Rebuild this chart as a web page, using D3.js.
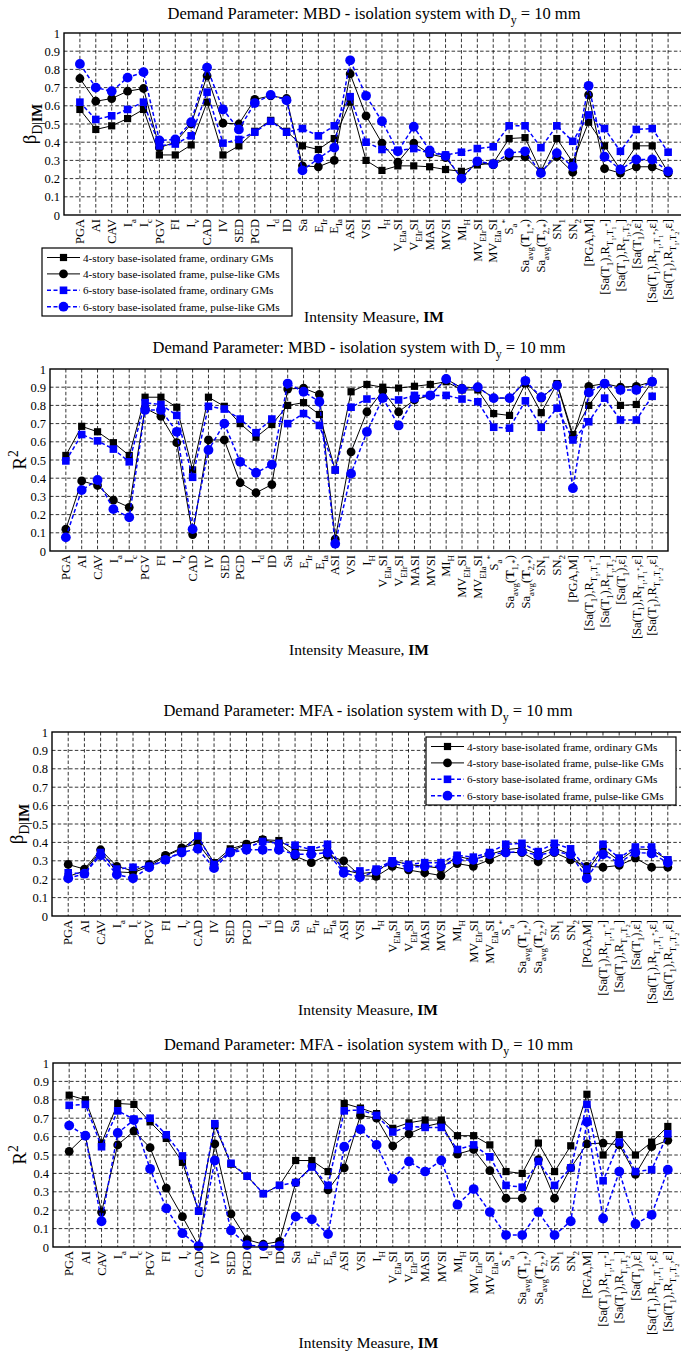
<!DOCTYPE html>
<html><head><meta charset="utf-8">
<script src="https://cdn.jsdelivr.net/npm/d3@7"></script>
<style>
body{margin:0;background:#fff}
svg{display:block}
text{font-family:"Liberation Serif","Times New Roman",serif;fill:#000}
</style>
</head><body>
<svg id="c" width="681" height="1354"></svg>
<script>
// ---------------- DATA ----------------
const categories = ["PGA","AI","CAV","I_{a}","I_{c}","PGV","FI","I_{v}","CAD","IV","SED","PGD","I_{d}","ID","Sa","E_{Ir}","E_{Ia}","ASI","VSI","I_{H}","V_{EIa}SI","V_{EIr}SI","MASI","MVSI","MI_{H}","MV_{EIr}SI","MV_{EIa}SI","S_{a}^{*}","Sa_{avg}(#{T}_{1,*})","Sa_{avg}(#{T}_{2,*})","SN_{1}","SN_{2}","[PGA,M]","[Sa(T_{1}),R_{T_{1},T_{1}^{*}}]","[Sa(T_{1}),R_{T_{1},T_{2}}]","[Sa(T_{1}),ε]","[Sa(T_{1}),R_{T_{1},T_{1}^{*}},ε]","[Sa(T_{1}),R_{T_{1},T_{2}},ε]"];
const yTicks = [0,0.1,0.2,0.3,0.4,0.5,0.6,0.7,0.8,0.9,1];
const seriesNames = ["4-story base-isolated frame, ordinary GMs","4-story base-isolated frame, pulse-like GMs","6-story base-isolated frame, ordinary GMs","6-story base-isolated frame, pulse-like GMs"];

// Panel 1: MBD, beta_D|IM
const mbdBeta4Ord   = [0.58,0.47,0.49,0.53,0.58,0.33,0.33,0.385,0.62,0.33,0.38,0.46,0.52,0.46,0.38,0.36,0.42,0.62,0.30,0.245,0.27,0.27,0.265,0.25,0.24,0.275,0.285,0.42,0.425,0.24,0.42,0.29,0.51,0.38,0.25,0.38,0.38,0.235];
const mbdBeta4Pulse = [0.75,0.625,0.64,0.68,0.695,0.37,0.40,0.50,0.765,0.505,0.50,0.635,0.655,0.64,0.27,0.265,0.30,0.775,0.545,0.395,0.29,0.395,0.335,0.315,0.205,0.29,0.275,0.32,0.32,0.235,0.32,0.235,0.66,0.255,0.23,0.265,0.265,0.23];
const mbdBeta6Ord   = [0.62,0.525,0.545,0.58,0.62,0.38,0.39,0.435,0.675,0.395,0.415,0.455,0.515,0.455,0.475,0.435,0.49,0.65,0.40,0.36,0.355,0.365,0.34,0.33,0.345,0.365,0.375,0.49,0.49,0.37,0.49,0.405,0.55,0.475,0.35,0.47,0.475,0.345];
const mbdBeta6Pulse = [0.83,0.70,0.68,0.755,0.785,0.41,0.415,0.51,0.81,0.58,0.47,0.615,0.66,0.63,0.245,0.31,0.37,0.85,0.655,0.515,0.35,0.485,0.355,0.325,0.20,0.295,0.28,0.34,0.35,0.23,0.34,0.265,0.71,0.32,0.25,0.305,0.305,0.24];

// Panel 2: MBD, R^2
const mbdR2_4Ord   = [0.525,0.685,0.655,0.595,0.525,0.845,0.845,0.79,0.445,0.845,0.795,0.70,0.625,0.695,0.80,0.815,0.75,0.445,0.875,0.915,0.90,0.895,0.905,0.915,0.93,0.885,0.885,0.755,0.745,0.92,0.76,0.92,0.64,0.80,0.92,0.80,0.805,0.93];
const mbdR2_4Pulse = [0.12,0.385,0.36,0.28,0.24,0.785,0.74,0.595,0.09,0.61,0.61,0.375,0.32,0.365,0.89,0.895,0.86,0.065,0.545,0.765,0.88,0.765,0.83,0.855,0.945,0.895,0.90,0.84,0.84,0.93,0.84,0.915,0.625,0.905,0.92,0.90,0.905,0.93];
const mbdR2_6Ord   = [0.495,0.64,0.605,0.56,0.49,0.815,0.805,0.745,0.405,0.795,0.78,0.725,0.65,0.725,0.70,0.755,0.69,0.445,0.79,0.835,0.84,0.83,0.855,0.855,0.855,0.835,0.82,0.68,0.675,0.825,0.68,0.785,0.61,0.71,0.84,0.72,0.72,0.85];
const mbdR2_6Pulse = [0.075,0.335,0.39,0.23,0.185,0.775,0.775,0.655,0.12,0.555,0.70,0.49,0.43,0.475,0.92,0.875,0.82,0.04,0.425,0.655,0.84,0.69,0.84,0.855,0.945,0.89,0.90,0.84,0.84,0.935,0.845,0.91,0.345,0.87,0.92,0.885,0.885,0.93];

// Panel 3: MFA, beta_D|IM
const mfaBeta4Ord   = [0.215,0.245,0.35,0.24,0.235,0.27,0.325,0.365,0.43,0.29,0.365,0.39,0.415,0.41,0.36,0.355,0.36,0.25,0.23,0.24,0.30,0.28,0.27,0.26,0.325,0.305,0.335,0.36,0.37,0.335,0.37,0.335,0.24,0.365,0.30,0.365,0.36,0.305];
const mfaBeta4Pulse = [0.28,0.255,0.36,0.27,0.245,0.28,0.33,0.37,0.395,0.28,0.35,0.39,0.415,0.395,0.325,0.29,0.33,0.30,0.22,0.215,0.27,0.25,0.235,0.22,0.285,0.27,0.305,0.345,0.345,0.295,0.345,0.305,0.27,0.265,0.275,0.315,0.265,0.265];
const mfaBeta6Ord   = [0.235,0.23,0.345,0.255,0.265,0.27,0.305,0.35,0.435,0.28,0.35,0.37,0.405,0.395,0.385,0.36,0.39,0.245,0.245,0.255,0.30,0.28,0.29,0.29,0.33,0.32,0.345,0.39,0.395,0.35,0.395,0.365,0.255,0.39,0.315,0.375,0.375,0.305];
const mfaBeta6Pulse = [0.205,0.23,0.33,0.225,0.205,0.265,0.305,0.345,0.365,0.26,0.345,0.36,0.36,0.36,0.335,0.335,0.345,0.235,0.21,0.245,0.29,0.265,0.27,0.27,0.305,0.305,0.335,0.345,0.35,0.33,0.35,0.335,0.205,0.335,0.29,0.345,0.34,0.29];

// Panel 4: MFA, R^2
const mfaR2_4Ord   = [0.825,0.80,0.565,0.78,0.775,0.68,0.59,0.46,0.195,0.66,0.45,0.385,0.29,0.335,0.47,0.47,0.41,0.78,0.755,0.725,0.645,0.675,0.69,0.69,0.605,0.605,0.555,0.41,0.40,0.565,0.41,0.55,0.83,0.50,0.61,0.50,0.57,0.655];
const mfaR2_4Pulse = [0.52,0.605,0.19,0.555,0.63,0.54,0.32,0.165,0.005,0.56,0.18,0.04,0.015,0.03,0.35,0.44,0.31,0.43,0.715,0.70,0.55,0.615,0.655,0.675,0.505,0.53,0.415,0.265,0.265,0.475,0.265,0.43,0.56,0.565,0.555,0.395,0.545,0.58];
const mfaR2_6Ord   = [0.77,0.775,0.545,0.74,0.695,0.70,0.61,0.495,0.195,0.67,0.455,0.385,0.29,0.335,0.35,0.435,0.335,0.74,0.745,0.715,0.625,0.655,0.65,0.65,0.53,0.555,0.49,0.335,0.325,0.465,0.335,0.43,0.775,0.36,0.57,0.41,0.42,0.615];
const mfaR2_6Pulse = [0.66,0.605,0.14,0.62,0.69,0.425,0.21,0.075,0.005,0.47,0.09,0.01,0.005,0.005,0.165,0.15,0.07,0.545,0.64,0.555,0.37,0.465,0.41,0.47,0.23,0.315,0.19,0.065,0.065,0.19,0.065,0.14,0.68,0.155,0.41,0.125,0.175,0.42];

// ---------------- LAYOUT / STYLE ----------------
const styles = [
  {color:"#000000", dash:null,    width:1.0, marker:"square", size:7.2},
  {color:"#000000", dash:null,    width:1.0, marker:"circle", size:8.8},
  {color:"#0000ff", dash:"4,2.5", width:1.5, marker:"square", size:7.6},
  {color:"#0000ff", dash:"4,2.5", width:1.5, marker:"circle", size:9.8}
];
const titleMBD = "Demand Parameter: MBD - isolation system with D_{y} = 10 mm";
const titleMFA = "Demand Parameter: MFA - isolation system with D_{y} = 10 mm";
const betaLabel = "β_{D|#{IM}}";
const r2Label = "R^{2}";
const xLabel = "Intensity Measure, #{IM}";

const panels = [
  {title:titleMBD, ylab:betaLabel, data:[mbdBeta4Ord,mbdBeta4Pulse,mbdBeta6Ord,mbdBeta6Pulse],
   left:64, right:684, top:33, bottom:215, titleY:19, xlabY:322, ylabX:30, legend:{x:42,y:248}},
  {title:titleMBD, ylab:r2Label, data:[mbdR2_4Ord,mbdR2_4Pulse,mbdR2_6Ord,mbdR2_6Pulse],
   left:50, right:668, top:369, bottom:551, titleY:353, xlabY:655, ylabX:20, legend:null},
  {title:titleMFA, ylab:betaLabel, data:[mfaBeta4Ord,mfaBeta4Pulse,mfaBeta6Ord,mfaBeta6Pulse],
   left:52, right:684, top:732, bottom:916, titleY:716, xlabY:1015, ylabX:17, legend:{x:426,y:737}},
  {title:titleMFA, ylab:r2Label, data:[mfaR2_4Ord,mfaR2_4Pulse,mfaR2_6Ord,mfaR2_6Pulse],
   left:53, right:684, top:1063, bottom:1247, titleY:1050, xlabY:1348, ylabX:20, legend:null}
];

// ---------------- RICH TEXT ----------------
function parseMarkup(s){
  const segs=[];
  function rec(str, shift, scale, bold){
    let i=0, buf="";
    const flush=()=>{ if(buf){ segs.push({t:buf,shift,scale,bold}); buf=""; } };
    while(i<str.length){
      const c=str[i];
      if((c==='_'||c==='^'||c==='#') && str[i+1]==='{'){
        let depth=0, j=i+1;
        for(; j<str.length; j++){ if(str[j]==='{') depth++; else if(str[j]==='}'){ depth--; if(depth===0) break; } }
        const inner=str.slice(i+2,j);
        flush();
        if(c==='_') rec(inner, shift+0.32*scale, scale*0.72, bold);
        else if(c==='^') rec(inner, shift-0.42*scale, scale*0.72, bold);
        else rec(inner, shift, scale, true);
        i=j+1;
      } else { buf+=c; i++; }
    }
    flush();
  }
  rec(s,0,1,false);
  return segs;
}
function rich(textSel, markup, base){
  const segs=parseMarkup(markup);
  let prev=0;
  segs.forEach(sg=>{
    textSel.append("tspan")
      .attr("dy", ((sg.shift-prev)*base).toFixed(2))
      .attr("font-size", (base*sg.scale).toFixed(2))
      .attr("font-weight", sg.bold?"bold":null)
      .text(sg.t);
    prev=sg.shift;
  });
  return textSel;
}

// ---------------- DRAW ----------------
const svg=d3.select("#c");
svg.append("rect").attr("width",681).attr("height",1354).attr("fill","#fff");

function marker(g, st, cx, cy){
  if(st.marker==="square"){
    g.append("rect").attr("x",cx-st.size/2).attr("y",cy-st.size/2)
      .attr("width",st.size).attr("height",st.size).attr("fill",st.color);
  } else {
    g.append("circle").attr("cx",cx).attr("cy",cy).attr("r",st.size/2).attr("fill",st.color);
  }
}

panels.forEach(p=>{
  const g=svg.append("g");
  const x=d3.scaleLinear().domain([0,categories.length+1]).range([p.left,p.right]);
  const y=d3.scaleLinear().domain([0,1]).range([p.bottom,p.top]);

  // grid
  const grid=g.append("g").attr("stroke","#000").attr("stroke-width",0.8).attr("stroke-dasharray","3.5,2.2");
  yTicks.filter(t=>t>0&&t<1).forEach(t=>{
    grid.append("line").attr("x1",p.left).attr("x2",p.right).attr("y1",y(t)).attr("y2",y(t));
  });
  categories.forEach((c,i)=>{
    grid.append("line").attr("x1",x(i+1)).attr("x2",x(i+1)).attr("y1",p.top).attr("y2",p.bottom);
  });

  // y axis ticks (labels) through d3 axis
  const ya=d3.axisLeft(y).tickValues(yTicks).tickSize(0).tickPadding(4)
     .tickFormat(d=>String(+d.toFixed(1)));
  const yg=g.append("g").attr("transform",`translate(${p.left},0)`).call(ya);
  yg.select(".domain").remove();
  yg.selectAll("text").attr("font-family","Liberation Serif, serif").attr("font-size",12.5).attr("fill","#000");

  // x tick labels
  categories.forEach((c,i)=>{
    const t=g.append("text").attr("transform",`translate(${x(i+1)},${p.bottom+4}) rotate(-90)`)
      .attr("text-anchor","end").attr("x",0).attr("y",4.2).attr("font-size",12.5);
    rich(t,c,12.5);
  });

  // series
  p.data.forEach((vals,k)=>{
    const st=styles[k];
    const line=d3.line().x((d,i)=>x(i+1)).y(d=>y(d));
    g.append("path").datum(vals).attr("d",line).attr("fill","none")
      .attr("stroke",st.color).attr("stroke-width",st.width)
      .attr("stroke-dasharray",st.dash);
    const mg=g.append("g");
    vals.forEach((v,i)=>marker(mg,st,x(i+1),y(v)));
  });

  // frame
  g.append("rect").attr("x",p.left).attr("y",p.top).attr("width",p.right-p.left).attr("height",p.bottom-p.top)
    .attr("fill","none").attr("stroke","#000").attr("stroke-width",1.4);

  // title
  const cx=(p.left+p.right)/2;
  rich(g.append("text").attr("x",cx).attr("y",p.titleY).attr("text-anchor","middle").attr("font-size",16.5), p.title, 16.5);
  // x label
  rich(g.append("text").attr("x",cx).attr("y",p.xlabY).attr("text-anchor","middle").attr("font-size",15.5), xLabel, 15.5);
  // y label
  const ymid=(p.top+p.bottom)/2;
  rich(g.append("text").attr("transform",`translate(${p.ylabX+6},${ymid}) rotate(-90)`).attr("text-anchor","middle").attr("font-size",19), p.ylab, 19);

  // legend
  if(p.legend){
    const L=p.legend, lw=250, lh=68, rowH=16.4;
    const lg=g.append("g");
    lg.append("rect").attr("x",L.x).attr("y",L.y).attr("width",lw).attr("height",lh)
      .attr("fill","#fff").attr("stroke","#000").attr("stroke-width",1.2);
    seriesNames.forEach((nm,k)=>{
      const st=styles[k];
      const ry=L.y+9.5+k*rowH;
      lg.append("line").attr("x1",L.x+5).attr("x2",L.x+38).attr("y1",ry).attr("y2",ry)
        .attr("stroke",st.color).attr("stroke-width",st.width).attr("stroke-dasharray",st.dash);
      marker(lg,st,L.x+21.5,ry);
      lg.append("text").attr("x",L.x+41).attr("y",ry+4).attr("font-size",11.2).text(nm);
    });
  }
});
</script>
</body></html>
